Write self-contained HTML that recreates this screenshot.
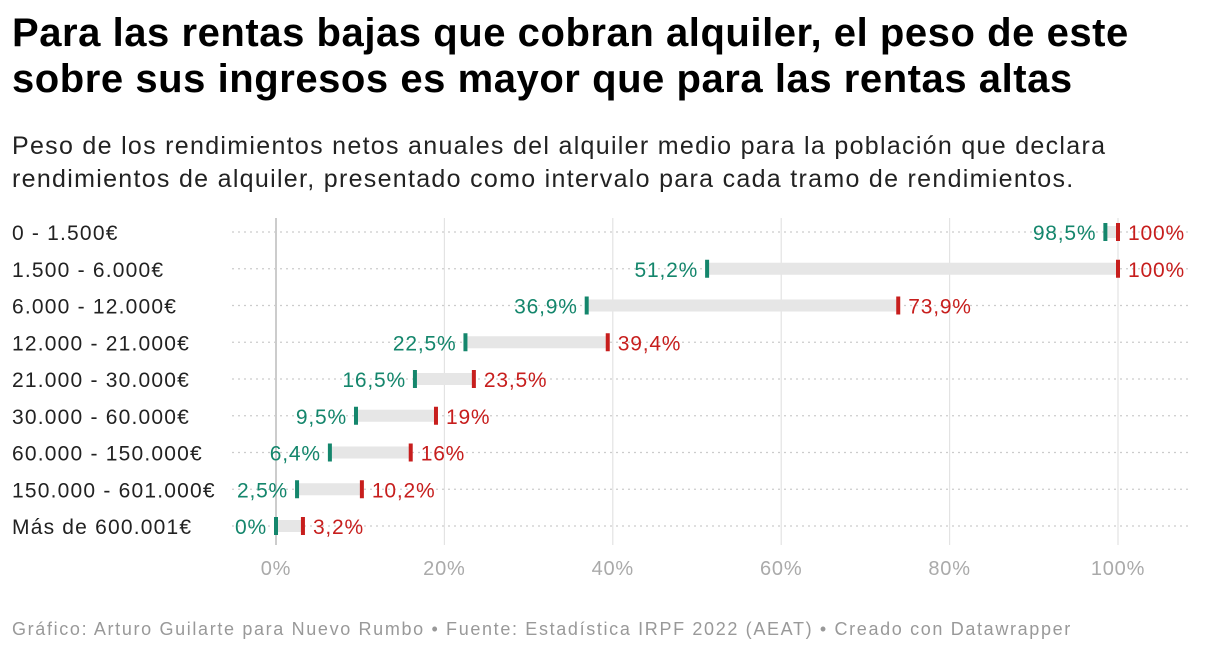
<!DOCTYPE html>
<html><head><meta charset="utf-8"><style>
body{margin:0;background:#fff;font-family:"Liberation Sans",sans-serif;width:1220px;height:654px;overflow:hidden;position:relative}
h1{position:absolute;left:12px;top:10px;margin:0;font-size:40px;line-height:46px;font-weight:bold;color:#000;width:1210px;letter-spacing:0.55px;white-space:nowrap}
.sub{position:absolute;left:12px;top:130px;font-size:25px;line-height:33px;color:#222;width:1210px;letter-spacing:1.3px;white-space:nowrap}
.foot{position:absolute;left:12px;top:619px;font-size:18px;color:#999;letter-spacing:1.65px;white-space:nowrap}
</style></head><body>
<h1>Para las rentas bajas que cobran alquiler, el peso de este<br>sobre sus ingresos es mayor que para las rentas altas</h1>
<div class="sub">Peso de los rendimientos netos anuales del alquiler medio para la población que declara<br>rendimientos de alquiler, presentado como intervalo para cada tramo de rendimientos.</div>
<svg id="chart" width="1220" height="654" style="position:absolute;left:0;top:0"></svg>
<div class="foot">Gráfico: Arturo Guilarte para Nuevo Rumbo • Fuente: Estadística IRPF 2022 (AEAT) • Creado con Datawrapper</div>
<script>
const categories=["0 - 1.500€","1.500 - 6.000€","6.000 - 12.000€","12.000 - 21.000€","21.000 - 30.000€","30.000 - 60.000€","60.000 - 150.000€","150.000 - 601.000€","Más de 600.001€"];
const lowValues=[98.5,51.2,36.9,22.5,16.5,9.5,6.4,2.5,0];
const highValues=[100,100,73.9,39.4,23.5,19,16,10.2,3.2];
const ticks=[0,20,40,60,80,100];
const svg=document.getElementById('chart');
const NS='http://www.w3.org/2000/svg';
const x=v=>276+v*8.42;
const y=i=>232+i*36.75;
const fmt=v=>String(v).replace('.',',')+'%';
function mk(t,a,txt){const e=document.createElementNS(NS,t);for(const k in a)e.setAttribute(k,a[k]);if(txt!=null)e.textContent=txt;svg.appendChild(e);return e;}
ticks.forEach(t=>{
 const l=mk('line',{x1:x(t),x2:x(t),y1:218,y2:545,stroke:t===0?'#bbb':'#e3e3e3','stroke-width':t===0?1.5:1.2});
 
 
 const tx=mk('text',{x:x(t),y:575,'text-anchor':'middle','font-size':20,fill:'#aaa','letter-spacing':0.8},t+'%');
 
 
});
categories.forEach((c,i)=>{
 const yy=y(i);
 const d=mk('line',{x1:232,x2:1190,y1:yy,y2:yy,stroke:'#ccc','stroke-width':1.2,'stroke-dasharray':'2 4'});
 
 
 const lb=mk('text',{x:12,y:yy+8,'font-size':21,fill:'#222','letter-spacing':1.2},c);
 
 
 const b=mk('rect',{x:x(lowValues[i]),y:yy-6,width:x(highValues[i])-x(lowValues[i]),height:12,fill:'#e6e6e6'});
 
 
 const g=mk('rect',{x:x(lowValues[i])-2,y:yy-9,width:4,height:18,fill:'#14866c'});
 
 
 const r=mk('rect',{x:x(highValues[i])-2,y:yy-9,width:4,height:18,fill:'#c71e1d'});
 
 
 const gl=mk('text',{x:x(lowValues[i])-9,y:yy+8,'text-anchor':'end','font-size':21,fill:'#14866c','letter-spacing':0.8},fmt(lowValues[i]));
 
 
 const rl=mk('text',{x:x(highValues[i])+10,y:yy+8,'font-size':21,fill:'#c71e1d','letter-spacing':0.8},fmt(highValues[i]));
 
 
});
</script>
</body></html>
